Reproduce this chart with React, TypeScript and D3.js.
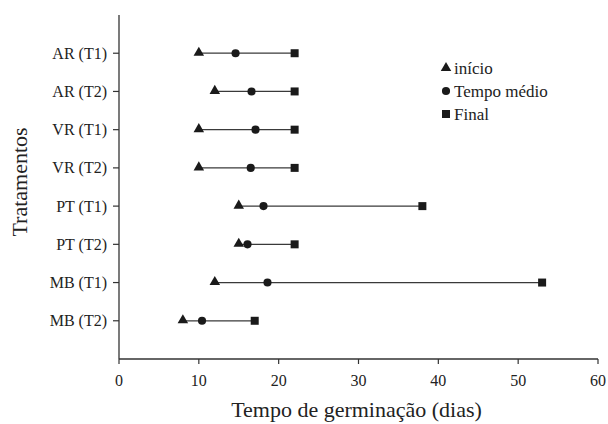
import React from "react";
import * as d3 from "d3";

const categories = ["AR (T1)", "AR (T2)", "VR (T1)", "VR (T2)", "PT (T1)", "PT (T2)", "MB (T1)", "MB (T2)"];
const inicio = [10, 12, 10, 10, 15, 15, 12, 8];
const tempoMedio = [14.6, 16.6, 17.1, 16.5, 18.1, 16.1, 18.6, 10.4];
const finalVals = [22, 22, 22, 22, 38, 22, 53, 17];
const xTicks = [0, 10, 20, 30, 40, 50, 60];
const legendLabels = ["início", "Tempo médio", "Final"];

const W = 608;
const H = 424;
const FONT = "Liberation Serif";

const x = d3.scaleLinear().domain([0, 60]).range([119, 598]);
const y = d3.scaleLinear().domain([0, 9]).range([15, 359]);

const triPath = d3.symbol().type(d3.symbolTriangle).size(48)();
const circPath = d3.symbol().type(d3.symbolCircle).size(52)();
const sqPath = d3.symbol().type(d3.symbolSquare).size(64)();

function Marker({ kind, cx, cy }: { kind: number; cx: number; cy: number }) {
  const p = kind === 0 ? triPath : kind === 1 ? circPath : sqPath;
  return <path d={p || ""} transform={`translate(${cx},${cy})`} fill="#1a1a1a" />;
}

const textStyle: React.CSSProperties = { fontFamily: FONT };

export default function App() {
  const axisColor = "#333";
  const x0 = x(0);
  const yBottom = y(9);
  return (
    <div style={{ position: "absolute", left: 0, top: 0 }}>
      <svg width={W} height={H} style={{ display: "block", background: "#fff", fontFamily: FONT }}>
        <line x1={x0} x2={x0} y1={y(0)} y2={yBottom} stroke={axisColor} strokeWidth={1.3} />
        <line x1={x0} x2={x(60)} y1={yBottom} y2={yBottom} stroke={axisColor} strokeWidth={1.3} />
        {categories.map((c, i) => (
          <g key={c}>
            <line x1={x0 - 6} x2={x0} y1={y(i + 1)} y2={y(i + 1)} stroke={axisColor} strokeWidth={1.2} />
            <text x={x0 - 12} y={y(i + 1)} dy="0.35em" textAnchor="end" style={textStyle} fontSize={16} fill="#222">
              {c}
            </text>
          </g>
        ))}
        {xTicks.map((t) => (
          <g key={t}>
            <line x1={x(t)} x2={x(t)} y1={yBottom} y2={yBottom + 5} stroke={axisColor} strokeWidth={1.2} />
            <text x={x(t)} y={386} textAnchor="middle" style={textStyle} fontSize={16} fill="#222">
              {t}
            </text>
          </g>
        ))}
        <text x={(x(0) + x(60)) / 2 - 2} y={417} textAnchor="middle" style={textStyle} fontSize={22} fill="#222">
          Tempo de germinação (dias)
        </text>
        <text
          transform={`translate(27,${(y(0) + yBottom) / 2 - 5}) rotate(-90)`}
          textAnchor="middle"
          style={textStyle}
          fontSize={22}
          fill="#222"
        >
          Tratamentos
        </text>
        {categories.map((c, i) => {
          const cy = y(i + 1);
          return (
            <g key={c}>
              <line x1={x(inicio[i])} x2={x(finalVals[i])} y1={cy} y2={cy} stroke="#3a3a3a" strokeWidth={1.2} />
              <Marker kind={0} cx={x(inicio[i])} cy={cy - 0.5} />
              <Marker kind={1} cx={x(tempoMedio[i])} cy={cy} />
              <Marker kind={2} cx={x(finalVals[i])} cy={cy} />
            </g>
          );
        })}
        {legendLabels.map((l, i) => {
          const ly = 68 + i * 23;
          return (
            <g key={l}>
              <Marker kind={i} cx={446} cy={ly} />
              <text x={454} y={ly} dy="0.33em" style={textStyle} fontSize={17} fill="#222">
                {l}
              </text>
            </g>
          );
        })}
      </svg>
    </div>
  );
}
